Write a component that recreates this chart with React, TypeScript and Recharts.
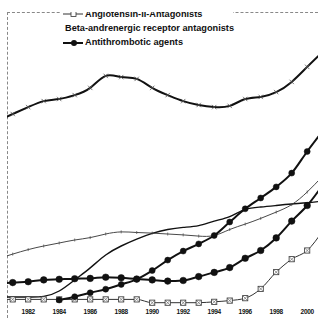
import React from "react";
import { LineChart, Line, XAxis, YAxis } from "recharts";

// years on the category axis (1980 and 2001 sit just outside the cropped view)
const years = [
  "1980", "1981", "1982", "1983", "1984", "1985", "1986", "1987", "1988", "1989", "1990",
  "1991", "1992", "1993", "1994", "1995", "1996", "1997", "1998", "1999", "2000", "2001"
];
const tickYears = ["1982", "1984", "1986", "1988", "1990", "1992", "1994", "1996", "1998", "2000"];

// arbitrary units (0-100)
const upperCrosses = [60.7, 63.0, 65.3, 67.3, 68.0, 69.3, 71.7, 75.7, 75.3, 74.7, 71.7, 69.3, 67.3, 66.0, 65.3, 65.7, 68.0, 68.7, 70.3, 73.7, 78.7, 83.7];
const betaBlockers = [14.7, 16.3, 17.8, 19.0, 20.0, 21.0, 21.8, 23.0, 23.7, 23.5, 23.3, 23.0, 22.7, 22.3, 22.5, 24.5, 26.3, 28.2, 30.3, 32.8, 37.0, 42.3];
const sCurve = [2.0, 2.0, 2.0, 2.2, 4.0, 7.7, 11.7, 16.0, 19.0, 21.3, 23.2, 24.5, 25.2, 25.8, 27.3, 28.8, 31.2, 32.0, 32.5, 33.0, 33.4, 34.0];
const risingDots = [null, null, null, null, 1.0, 2.1, 3.4, 4.6, 6.2, 7.9, 10.8, 14.3, 17.3, 19.7, 22.5, 27.0, 31.4, 35.0, 38.7, 43.3, 50.5, 57.3];
const antithrombotics = [6.3, 6.8, 7.1, 7.7, 7.9, 8.1, 8.2, 8.6, 8.4, 8.0, 7.7, 7.3, 7.5, 8.8, 10.2, 11.8, 14.9, 17.5, 21.7, 27.3, 32.5, 39.3];
const angiotensin = [1.2, 1.2, 1.2, 1.2, 1.2, 1.2, 1.2, 1.2, 1.2, 1.2, 0.1, 0.1, 0.1, 0.1, 0.4, 0.8, 1.6, 4.7, 10.3, 14.6, 17.5, 24.0];

const legendItems = [
  { name: "Angiotensin-II-Antagonists", kind: "box" },
  { name: "Beta-andrenergic receptor antagonists", kind: "thin" },
  { name: "Antithrombotic agents", kind: "dot" }
];

const data = years.map((year, i) => ({
  year,
  upperCrosses: upperCrosses[i],
  betaBlockers: betaBlockers[i],
  sCurve: sCurve[i],
  risingDots: risingDots[i],
  antithrombotics: antithrombotics[i],
  angiotensin: angiotensin[i]
}));

const ink = "#111";
const font = "'Liberation Sans', Arial, sans-serif";

function CrossDot(props: any) {
  const { cx, cy, index } = props;
  if (cx == null || cy == null) return <g key={`c-${index}`} />;
  const s = 2.2;
  return (
    <path
      key={`c-${index}`}
      d={`M${cx - s},${cy - s}L${cx + s},${cy + s}M${cx - s},${cy + s}L${cx + s},${cy - s}`}
      stroke="#555"
      strokeWidth={0.8}
      fill="none"
    />
  );
}

function TickDot(props: any) {
  const { cx, cy, index } = props;
  if (cx == null || cy == null) return <g key={`t-${index}`} />;
  return <path key={`t-${index}`} d={`M${cx},${cy - 1.5}L${cx},${cy + 1.5}`} stroke="#444" strokeWidth={0.7} />;
}

function BoxDot(props: any) {
  const { cx, cy, index } = props;
  if (cx == null || cy == null) return <g key={`b-${index}`} />;
  const s = 2.6;
  return (
    <g key={`b-${index}`}>
      <rect x={cx - s} y={cy - s} width={s * 2} height={s * 2} fill="#fff" stroke="#333" strokeWidth={0.8} />
      <path d={`M${cx - s},${cy - s}L${cx + s},${cy + s}M${cx - s},${cy + s}L${cx + s},${cy - s}`} stroke="#555" strokeWidth={0.6} />
    </g>
  );
}

function LegendSymbol({ kind }: { kind: string }) {
  return (
    <svg width={20} height={10} style={{ display: "block" }}>
      {kind === "thin" && <line x1={0} y1={5} x2={20} y2={5} stroke="#555" strokeWidth={0.8} strokeDasharray="2 1" />}
      {kind === "dot" && (
        <>
          <line x1={0} y1={5} x2={20} y2={5} stroke={ink} strokeWidth={2} />
          <circle cx={11} cy={5} r={3} fill={ink} />
        </>
      )}
      {kind === "box" && (
        <>
          <line x1={0} y1={5} x2={20} y2={5} stroke="#333" strokeWidth={1} />
          <rect x={8} y={2.5} width={5} height={5} fill="#fff" stroke="#333" strokeWidth={0.8} />
        </>
      )}
    </svg>
  );
}

export default function App() {
  return (
    <div style={{ position: "fixed", left: 0, top: 0, width: 318, height: 318, background: "#fff", overflow: "hidden" }}>
      <div style={{ position: "absolute", left: 7, top: 12, width: 311, height: 306, overflow: "hidden" }}>
        <div style={{ position: "absolute", left: 0, top: 0, width: 311, borderTop: "1px dashed #888" }} />
        <div style={{ position: "absolute", left: 0, top: 0, height: 306, borderLeft: "1px dashed #888" }} />

        <div style={{ position: "absolute", left: -27, top: -12 }}>
          <LineChart width={370} height={330} data={data} margin={{ top: 3, right: 27.3, bottom: 0, left: 17.2 }}>
            <XAxis
              dataKey="year"
              ticks={tickYears}
              interval={0}
              height={27}
              axisLine={false}
              tickLine={false}
              tickSize={4}
              tickMargin={2.4}
              tick={{ fontSize: 6.5, fontWeight: "bold", fill: ink, fontFamily: font, letterSpacing: -0.3 }}
            />
            <YAxis hide domain={[0, 100]} />
            <Line type="natural" dataKey="sCurve" stroke={ink} strokeWidth={1.4} dot={false} isAnimationActive={false} />
            <Line type="natural" dataKey="betaBlockers" stroke="#333" strokeWidth={0.9} dot={TickDot} isAnimationActive={false} />
            <Line type="monotone" dataKey="angiotensin" stroke="#333" strokeWidth={1} dot={BoxDot} isAnimationActive={false} />
            <Line type="monotone" dataKey="antithrombotics" stroke={ink} strokeWidth={2} dot={{ r: 3.3, fill: ink, stroke: ink, strokeWidth: 0.5 }} isAnimationActive={false} />
            <Line type="monotone" dataKey="risingDots" stroke={ink} strokeWidth={2} dot={{ r: 3, fill: ink, stroke: ink, strokeWidth: 0.5 }} isAnimationActive={false} />
            <Line type="natural" dataKey="upperCrosses" stroke={ink} strokeWidth={2} dot={CrossDot} isAnimationActive={false} />
          </LineChart>
        </div>

        <div style={{ position: "absolute", left: 53, top: -5.3, width: 170, background: "#fff", paddingLeft: 3 }}>
          {legendItems.map((item) => (
            <div key={item.name} style={{ display: "flex", alignItems: "center", height: 14.4, lineHeight: "14.4px" }}>
              <LegendSymbol kind={item.kind} />
              <span style={{ marginLeft: 2, fontFamily: font, fontWeight: "bold", fontSize: 9.2, color: ink, whiteSpace: "nowrap" }}>
                {item.name}
              </span>
            </div>
          ))}
        </div>
      </div>
    </div>
  );
}
